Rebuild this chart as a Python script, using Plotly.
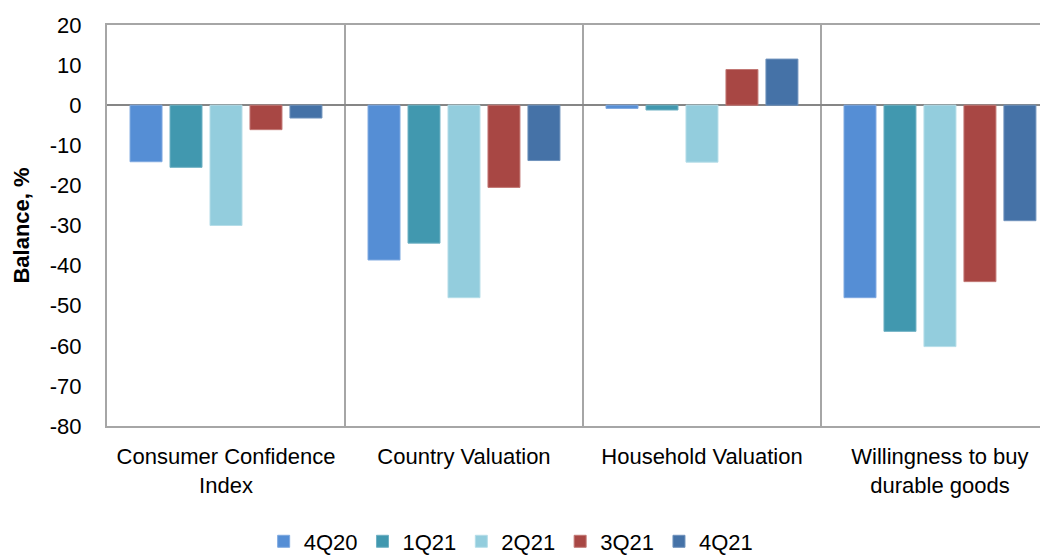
import plotly.graph_objects as go

categories = ["Consumer Confidence<br>Index", "Country Valuation", "Household Valuation",
              "Willingness to buy<br>durable goods"]
series_names = ["4Q20", "1Q21", "2Q21", "3Q21", "4Q21"]
v_4q20 = [-14.1, -38.6, -0.8, -48.0]
v_1q21 = [-15.5, -34.4, -1.2, -56.4]
v_2q21 = [-30.0, -48.0, -14.2, -60.2]
v_3q21 = [-6.1, -20.5, 8.9, -44.0]
v_4q21 = [-3.2, -13.8, 11.5, -28.8]
y_tick_vals = [20, 10, 0, -10, -20, -30, -40, -50, -60, -70, -80]
y_tick_text = ["20", "10", "0", "-10", "-20", "-30", "-40", "-50", "-60", "-70", "-80"]

colors = ["#558ED5", "#4198AF", "#93CDDD", "#A84744", "#4572A7"]
edges = ["#7FA9E0", "#6FB1C3", "#B5DDE8", "#C27875", "#6F92BC"]
values = [v_4q20, v_1q21, v_2q21, v_3q21, v_4q21]

fig = go.Figure()
for name, vals, c, e in zip(series_names, values, colors, edges):
    fig.add_trace(go.Bar(x=categories, y=vals, name=name,
                         marker=dict(color=c, line=dict(color=e, width=1))))

font_family = "Liberation Sans, Arial, sans-serif"
fig.update_layout(
    width=1040, height=550,
    margin=dict(l=99, r=0, t=17, b=132, autoexpand=False),
    paper_bgcolor="white", plot_bgcolor="white",
    barmode="group", bargap=0.16, bargroupgap=0.2,
    font=dict(family=font_family, size=22, color="black"),
    showlegend=True,
    legend=dict(orientation="h", x=0.4295, xanchor="center", y=-0.288, yanchor="middle",
                font=dict(size=22), itemclick=False, traceorder="normal"),
    xaxis=dict(range=[-0.5, 3.454], tickson="boundaries", showgrid=True,
               gridcolor="#A6A6A6", gridwidth=2, showline=True, mirror=True,
               linecolor="#A6A6A6", linewidth=2, ticks="", ticklabelstandoff=10,
               tickfont=dict(size=22)),
    yaxis=dict(range=[-80, 20], tickvals=y_tick_vals, ticktext=y_tick_text,
               showgrid=False, zeroline=True, zerolinecolor="#868686", zerolinewidth=2,
               showline=True, linecolor="#A6A6A6", linewidth=2, ticks="",
               ticklabelstandoff=19, tickfont=dict(size=22),
               title=dict(text="<b>Balance, %</b>", font=dict(size=22), standoff=14)),
)

fig.write_html("out.html")
